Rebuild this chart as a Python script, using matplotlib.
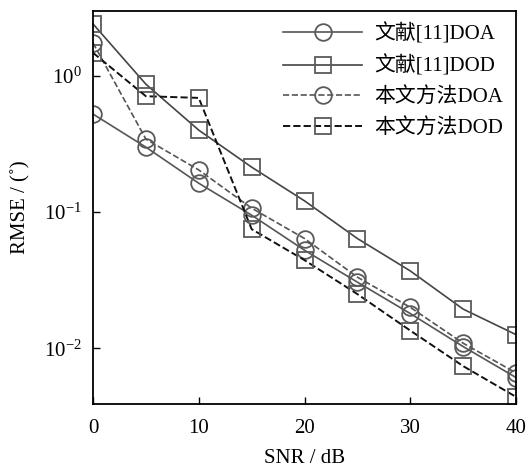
import matplotlib
matplotlib.use("Agg")
import matplotlib.pyplot as plt
from matplotlib.ticker import LogLocator, NullLocator, FixedLocator

plt.rcParams['font.family'] = ['Liberation Serif', 'Noto Sans CJK SC']
plt.rcParams['mathtext.fontset'] = 'stix'

snr = [0, 5, 10, 15, 20, 25, 30, 35, 40]
ref_doa = [0.525, 0.30, 0.163, 0.095, 0.0525, 0.0306, 0.018, 0.0103, 0.0061]
ref_dod = [2.41, 0.87, 0.40, 0.214, 0.121, 0.064, 0.037, 0.0194, 0.0126]
our_doa = [1.75, 0.344, 0.204, 0.107, 0.064, 0.0333, 0.020, 0.0109, 0.0066]
our_dod = [1.48, 0.71, 0.69, 0.075, 0.0444, 0.025, 0.0135, 0.0074, 0.0044]
labels = ['文献[11]DOA', '文献[11]DOD', '本文方法DOA', '本文方法DOD']
xticks = [0, 10, 20, 30, 40]

fig = plt.figure(figsize=(5.32, 4.69), dpi=100)
ax = fig.add_axes([0.1748, 0.1386, 0.7952, 0.838])

mk = dict(markersize=12, markerfacecolor='none', markeredgecolor='#5a5a5a', markeredgewidth=1.3)
ax.plot(snr, ref_doa, '-', color='#555555', lw=1.2, marker='o', label=labels[0], **mk)
ax.plot(snr, ref_dod, '-', color='#444444', lw=1.2, marker='s', label=labels[1], **mk)
ax.plot(snr, our_doa, '--', color='#555555', lw=1.2, marker='o', label=labels[2], **mk)
ax.plot(snr, our_dod, '--', color='#111111', lw=1.4, marker='s', label=labels[3], **mk)

ax.set_yscale('log')
ax.set_xlim(0, 40)
ax.set_ylim(0.0039, 3.0)
ax.xaxis.set_major_locator(FixedLocator(xticks))
ax.yaxis.set_major_locator(LogLocator(base=10, numticks=10))
ax.yaxis.set_minor_locator(NullLocator())
ax.tick_params(direction='in', length=5, width=1, labelsize=15, top=False, right=False)
ax.tick_params(axis='x', pad=11)
ax.tick_params(axis='y', pad=8)
for s in ax.spines.values():
    s.set_linewidth(1.3)

ax.set_xlabel('SNR / dB', fontsize=15, labelpad=8)
ax.set_ylabel('RMSE / (˚)', fontsize=15, labelpad=10)

leg = ax.legend(loc='upper right', frameon=False, fontsize=15, handlelength=3.8,
                labelspacing=0.52, borderaxespad=0.2, handletextpad=0.6)

fig.savefig('out.png', dpi=100)
